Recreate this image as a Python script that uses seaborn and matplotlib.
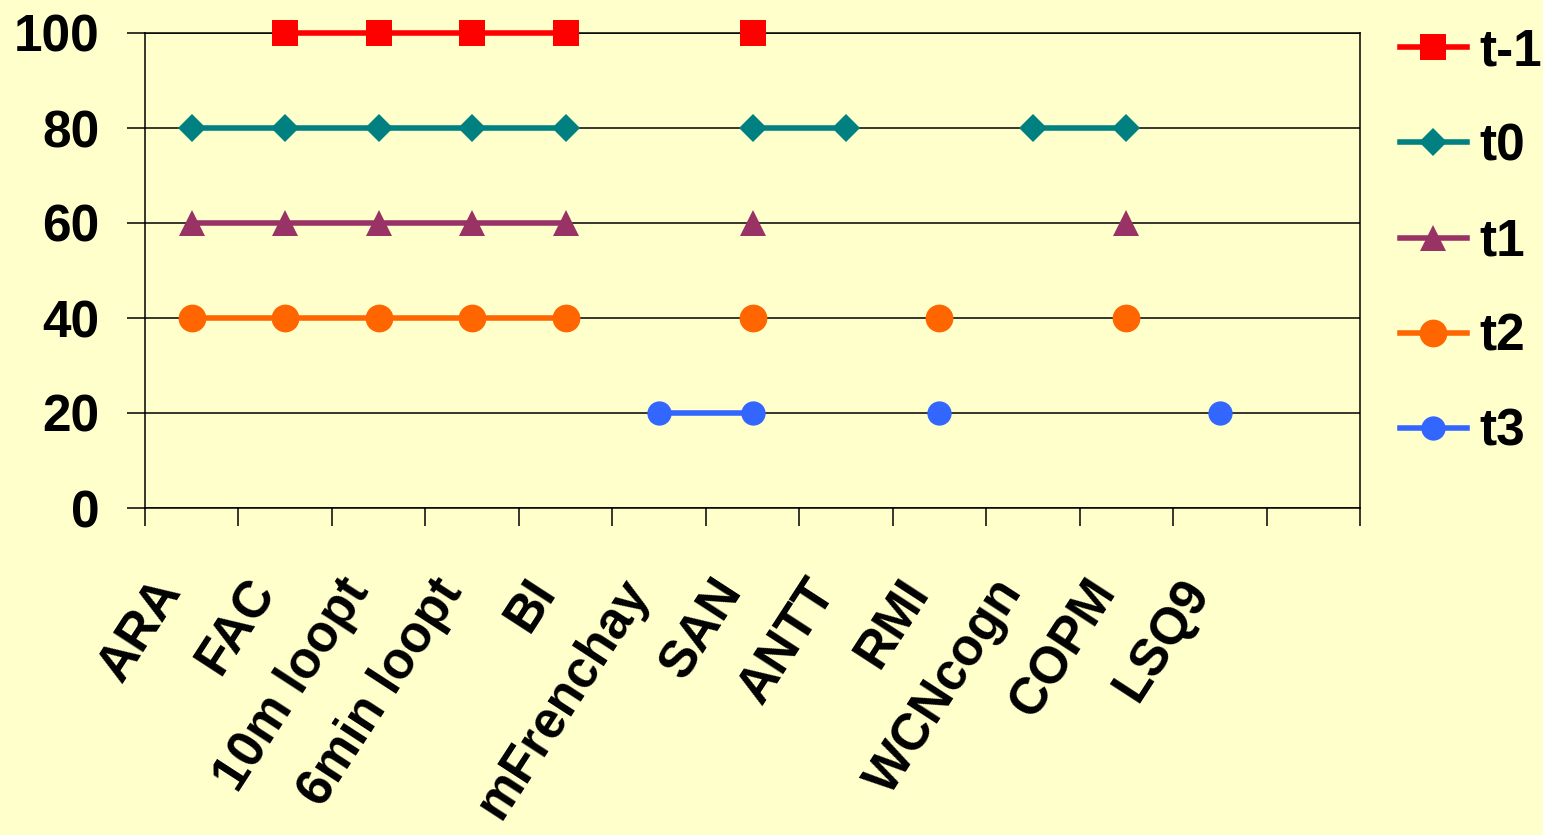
import matplotlib
matplotlib.use("Agg")
import matplotlib.pyplot as plt
from matplotlib.lines import Line2D
import seaborn as sns
import numpy as np
import pandas as pd

categories = ["ARA", "FAC", "10m loopt", "6min loopt", "BI", "mFrenchay", "SAN",
              "ANTT", "RMI", "WCNcogn", "COPM", "LSQ9", ""]
series = ["t-1", "t0", "t1", "t2", "t3"]
nan = np.nan
t_min1 = [nan, 100, 100, 100, 100, nan, 100, nan, nan, nan, nan, nan, nan]
t0 = [80, 80, 80, 80, 80, nan, 80, 80, nan, 80, 80, nan, nan]
t1 = [60, 60, 60, 60, 60, nan, 60, nan, nan, nan, 60, nan, nan]
t2 = [40, 40, 40, 40, 40, nan, 40, nan, 40, nan, 40, nan, nan]
t3 = [nan, nan, nan, nan, nan, 20, 20, nan, 20, nan, nan, 20, nan]
y_ticks = [0, 20, 40, 60, 80, 100]

colors = ["#FF0000", "#008080", "#993366", "#FF6600", "#3366FF"]
markers = ["s", "D", "^", "o", "o"]
msizes = [18.5, 14.5, 18.5, 20, 17.5]

# long table, with a run id so gaps (missing values) break the lines
rows = []
for name, vals in zip(series, [t_min1, t0, t1, t2, t3]):
    run = 0
    for i, v in enumerate(vals):
        if np.isnan(v):
            run += 1
            continue
        rows.append({"series": name, "pos": i, "value": v, "run": run})
df = pd.DataFrame(rows)

bg = "#FFFFCC"
plt.rcParams["font.family"] = ["Liberation Sans", "DejaVu Sans"]
plt.rcParams["font.weight"] = "bold"

fig = plt.figure(figsize=(15.43, 8.35), dpi=100, facecolor=bg)
ax = fig.add_axes([145 / 1543, 1 - 508 / 835, 1215 / 1543, 475 / 835])
ax.set_facecolor(bg)

for name, c, m, ms in zip(series, colors, markers, msizes):
    sub = df[df["series"] == name]
    sns.lineplot(data=sub, x="pos", y="value", units="run", estimator=None,
                 color=c, marker=m, markersize=ms, markeredgewidth=0,
                 lw=4, legend=False, clip_on=False, zorder=3, ax=ax)

ax.set_xlim(-0.5, len(categories) - 0.5)
ax.set_ylim(0, 100)
ax.set_yticks(y_ticks)
ax.yaxis.grid(True, color="black", lw=1.1)
ax.set_axisbelow(True)
ax.set_xlabel("")
ax.set_ylabel("")

ax.set_xticks(range(len(categories)))
ax.set_xticklabels(categories, rotation=57, ha="right", va="bottom",
                   rotation_mode="anchor")
ax.set_xticks(np.arange(-0.5, len(categories)), minor=True)
ax.tick_params(axis="x", which="major", length=0, pad=64, labelsize=37)
ax.tick_params(axis="x", which="minor", length=13, width=1.1, direction="out")
ax.tick_params(axis="y", length=13, width=1.1, direction="out", pad=20, labelsize=37)
for s in ax.spines.values():
    s.set_color("black")
    s.set_linewidth(1.1)

handles = [Line2D([], [], color=c, marker=m, markersize=ms, markeredgewidth=0, lw=4)
           for c, m, ms in zip(colors, markers, msizes)]
fig.legend(handles, series, loc="upper left",
           bbox_to_anchor=(1400 / 1543, 1 - 27 / 835), frameon=False,
           fontsize=37, handlelength=1.3, handletextpad=0.25,
           labelspacing=0.9, borderpad=0, borderaxespad=0)

fig.savefig("out.png", dpi=100, facecolor=bg)
